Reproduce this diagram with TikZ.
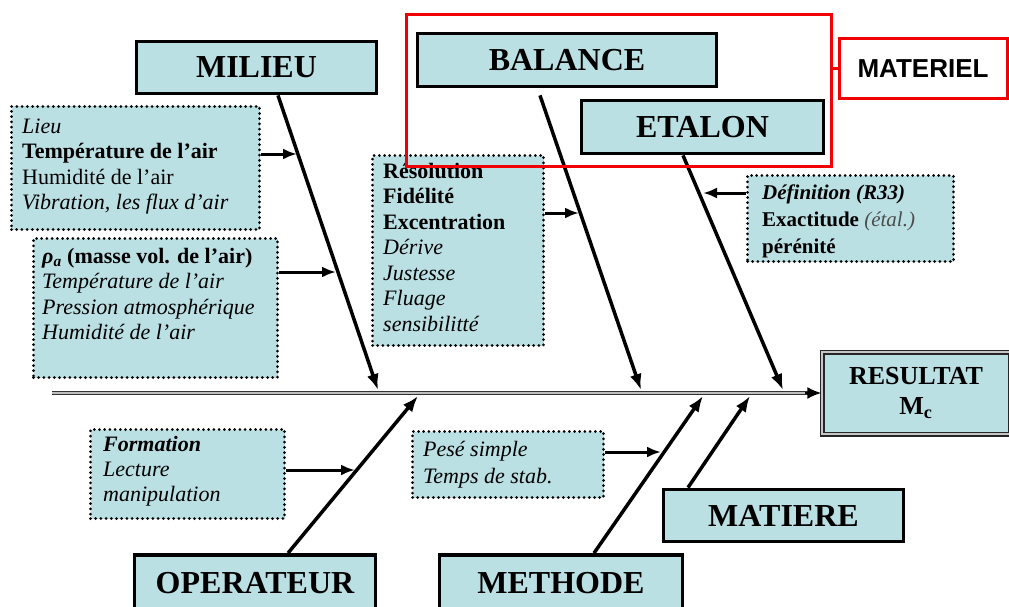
\documentclass[tikz,border=0pt]{standalone}
\usepackage{fontspec}
\setmainfont{Liberation Serif}
\newfontfamily\arialfont{Liberation Sans}
\usetikzlibrary{calc,arrows.meta}

\definecolor{boxfill}{RGB}{187,224,228}
\definecolor{matred}{RGB}{240,0,0}

\tikzset{
  head/.style={draw, line width=3.8pt, fill=boxfill, inner sep=0pt,
    font=\fontsize{32}{36}\selectfont\bfseries},
  cause/.style={draw, line width=3pt, dash pattern=on 0pt off 5.2pt,
    line cap=round, fill=boxfill, anchor=north west, inner sep=0pt},
  causetext/.style={anchor=north west, align=left, inner sep=0pt,
    font=\fontsize{22}{25.5}\selectfont},
  bone/.style={line width=3.5pt, -{Latex[length=16pt,width=12pt]}},
  sub/.style={line width=3pt, -{Latex[length=14pt,width=11pt]}},
}

\begin{document}
\begin{tikzpicture}[x=1pt,y=-1pt]
\useasboundingbox (0,0) rectangle (1009,607);

% result and spine
\node[draw=black!85, double=gray!45, double distance=2.2pt, line width=1.4pt,
  fill=boxfill, minimum width=188pt, minimum height=82pt, align=center,
  font=\fontsize{26}{30}\selectfont\bfseries] (res) at (916,393)
  {RESULTAT\\M\textsubscript{c}};
\coordinate (tail) at (52,393);
\draw[draw=black!80, double=gray!50, line width=1.5pt, double distance=1.8pt]
  (tail) -- ($(res.west)+(-12,0)$);
\draw[line width=1.8pt, -{Latex[length=14pt,width=12pt]}]
  ($(res.west)+(-16,0)$) -- (res.west);

% cause boxes
\node[cause, minimum width=248pt, minimum height=123pt] (bxA) at (10,105) {};
\node[cause, minimum width=244pt, minimum height=139pt] (bxB) at (32,237) {};
\node[cause, minimum width=171pt, minimum height=190pt] (bxC) at (371,154) {};
\node[cause, minimum width=206pt, minimum height=86pt] (bxD) at (746,174) {};
\node[cause, minimum width=194pt, minimum height=89pt] (bxE) at (89,428) {};
\node[cause, minimum width=191pt, minimum height=66pt] (bxF) at (411,430) {};

\node[causetext] (txA) at (22,115) {\strut\textit{Lieu}\\
  \textbf{Température de l’air}\\ Humidité de l’air\\
  \textit{Vibration, les flux d’air}};
\node[causetext] (txB) at (42,245) {\strut\textbf{\textit{ρ}\textsubscript{\textit{a}} (masse vol. de l’air)}\\
  \textit{Température de l’air}\\ \textit{Pression atmosphérique}\\
  \textit{Humidité de l’air}};
\node[causetext] (txC) at (383,160) {\strut\textbf{Résolution}\\ \textbf{Fidélité}\\
  \textbf{Excentration}\\ \textit{Dérive}\\ \textit{Justesse}\\
  \textit{Fluage}\\ \textit{sensibilitté}};
\node[causetext, font=\fontsize{21}{27}\selectfont] (txD) at (762,180)
  {\strut\textbf{\textit{Définition (R33)}}\\
  \textbf{Exactitude} {\color{black!70}\textit{(étal.)}}\\ \textbf{pérénité}};
\node[causetext, font=\fontsize{22}{25}\selectfont] (txE) at (103,434)
  {\strut\textbf{\textit{Formation}}\\ \textit{Lecture}\\ \textit{manipulation}};
\node[causetext, font=\fontsize{22}{27}\selectfont] (txF) at (423,437)
  {\strut\textit{Pesé simple}\\ \textit{Temps de stab.}};

% main headings
\node[head, minimum width=240pt, minimum height=52pt] (mil) at (256.5,67.5) {MILIEU};
\node[head, minimum width=299pt, minimum height=53pt] (bal) at (567,60) {BALANCE};
\node[head, minimum width=242pt, minimum height=53pt] (eta) at (702.5,127) {ETALON};
\node[head, minimum width=240pt, minimum height=52pt] (mat) at (783.5,515.5) {MATIERE};
\node[head, minimum width=241pt, minimum height=56pt] (ope) at (255,583) {OPERATEUR};
\node[head, minimum width=243pt, minimum height=56pt] (met) at (561,583) {METHODE};

% bones
\coordinate (milT) at (378,390);
\coordinate (balT) at (641,390);
\coordinate (etaT) at (783,390);
\coordinate (opeT) at (418,396);
\coordinate (metT) at (703,396);
\coordinate (matT) at (750,396);
\draw[bone] ([xshift=21.5pt]mil.south) -- (milT);
\draw[bone] ([xshift=-27pt,yshift=-7pt]bal.south) -- (balT);
\draw[bone] ([xshift=-19.5pt]eta.south) -- (etaT);
\draw[bone] ([xshift=33pt]ope.north) -- (opeT);
\draw[bone] ([xshift=33pt]met.north) -- (metT);
\draw[bone] ([xshift=-95.5pt]mat.north) -- (matT);

% small arrows onto the bones
\coordinate (milA) at (297,154);
\coordinate (milB) at (336,272);
\coordinate (balA) at (579,213);
\coordinate (etaA) at (703,193);
\coordinate (opeA) at (355,470);
\coordinate (metA) at (661,452);
\draw[sub] (bxA.east |- milA) -- (milA);
\draw[sub] (bxB.east |- milB) -- (milB);
\draw[sub] (bxC.east |- balA) -- (balA);
\draw[sub] (bxD.west |- etaA) -- (etaA);
\draw[sub] (bxE.east |- opeA) -- (opeA);
\draw[sub] (bxF.east |- metA) -- (metA);

% materiel group
\node[draw=matred, line width=3pt, minimum width=425pt, minimum height=151pt]
  (matgrp) at (618.5,90.5) {};
\node[draw=matred, line width=3pt, fill=white, minimum width=168pt,
  minimum height=60pt, inner sep=0pt,
  font={\arialfont\fontsize{26}{30}\selectfont\bfseries}] (matl) at (923,69) {MATERIEL};
\draw[matred, line width=3pt] (matgrp.east |- matl.west) -- (matl.west);
\end{tikzpicture}
\end{document}
